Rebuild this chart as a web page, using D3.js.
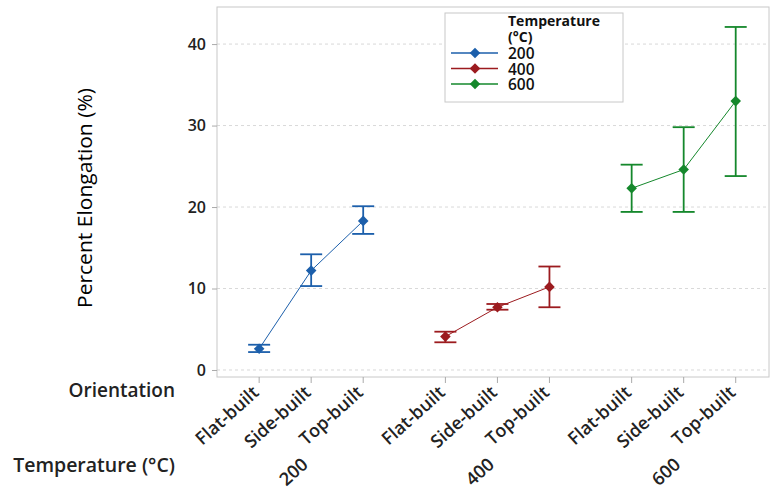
<!DOCTYPE html>
<html>
<head>
<meta charset="utf-8">
<script src="https://cdn.jsdelivr.net/npm/d3@7"></script>
<style>
    body { margin: 0; background: #fff; }
    svg { display: block; font-family: "Open Sans", "Noto Sans", sans-serif; }
</style>
</head>
<body>
<svg id="chart" width="771" height="493"></svg>
<script>
var temperatures = ["200", "400", "600"];
var orientations = ["Flat-built", "Side-built", "Top-built"];
var colors = ["#1c5fab", "#9c1b1f", "#15882c"];
var means = [[2.6, 12.2, 18.3], [4.1, 7.7, 10.2], [22.3, 24.6, 33.0]];
var lowers = [[2.2, 10.3, 16.7], [3.4, 7.4, 7.7], [19.4, 19.4, 23.8]];
var uppers = [[3.1, 14.2, 20.1], [4.7, 8.1, 12.7], [25.2, 29.8, 42.1]];
var yTicks = [0, 10, 20, 30, 40];

(function() {
    var svg = d3.select("#chart");
    var left = 217, right = 769, top = 7, bottom = 377;
    var GROUP_GAP = 1.58;
    var TILT = -42;

    // position of each point on a continuous axis, groups spaced apart
    function slot(g, o) { return g * (orientations.length - 1 + GROUP_GAP) + o; }

    var x = d3.scaleLinear()
        .domain([-0.81, slot(2, 2) + 0.64])
        .range([left, right]);
    var y = d3.scaleLinear()
        .domain([-0.86, 44.55])
        .range([bottom, top]);

    var rows = [];
    temperatures.forEach(function(t, g) {
        orientations.forEach(function(o, i) {
            rows.push({ g: g, i: i, temp: t, orient: o, mean: means[g][i], lo: lowers[g][i], hi: uppers[g][i] });
        });
    });

    // grid
    svg.append("g").selectAll("line")
        .data(yTicks)
        .join("line")
        .attr("x1", left).attr("x2", right)
        .attr("y1", function(d) { return y(d); })
        .attr("y2", function(d) { return y(d); })
        .attr("stroke", "#d9d9d9")
        .attr("stroke-dasharray", "3,3");

    svg.append("rect")
        .attr("x", left).attr("y", top)
        .attr("width", right - left).attr("height", bottom - top)
        .attr("fill", "none").attr("stroke", "#c8c8c8");

    // y axis
    var yAxis = svg.append("g")
        .attr("transform", "translate(" + left + ",0)")
        .call(d3.axisLeft(y).tickValues(yTicks).tickSize(5).tickPadding(6));
    yAxis.select(".domain").remove();
    yAxis.selectAll("line").attr("stroke", "#aaa");
    yAxis.selectAll("text")
        .attr("font-size", 16).attr("font-weight", 600).attr("fill", "#222")
        .attr("font-family", "'Open Sans', sans-serif");

    svg.append("text")
        .attr("transform", "translate(92,198) rotate(-90)")
        .attr("text-anchor", "middle")
        .attr("font-size", 19.5)
        .attr("font-weight", 500)
        .attr("fill", "#000")
        .attr("font-family", "'Open Sans', sans-serif")
        .attr("textLength", 220)
        .attr("lengthAdjust", "spacingAndGlyphs")
        .text("Percent Elongation (%)");

    // x ticks
    svg.append("g").selectAll("line")
        .data(rows)
        .join("line")
        .attr("x1", function(d) { return x(slot(d.g, d.i)); })
        .attr("x2", function(d) { return x(slot(d.g, d.i)); })
        .attr("y1", bottom).attr("y2", bottom + 6)
        .attr("stroke", "#aaa");

    svg.append("g").selectAll("text")
        .data(rows)
        .join("text")
        .attr("transform", function(d) {
            return "translate(" + (x(slot(d.g, d.i)) + 1) + "," + (bottom + 17) + ") rotate(" + TILT + ")";
        })
        .attr("text-anchor", "end")
        .attr("font-size", 18)
        .attr("font-weight", 600)
        .attr("fill", "#222")
        .text(function(d) { return d.orient; });

    svg.append("g").selectAll("text")
        .data(temperatures)
        .join("text")
        .attr("transform", function(d, g) {
            return "translate(" + (x(slot(g, 1)) - 2) + ",466) rotate(" + TILT + ")";
        })
        .attr("text-anchor", "end")
        .attr("font-size", 18)
        .attr("font-weight", 600)
        .attr("fill", "#222")
        .text(function(d) { return d; });

    svg.append("text")
        .attr("x", 175).attr("y", 397)
        .attr("text-anchor", "end")
        .attr("font-size", 19).attr("font-weight", 600).attr("fill", "#222")
        .text("Orientation");
    svg.append("text")
        .attr("x", 175).attr("y", 472)
        .attr("text-anchor", "end")
        .attr("font-size", 19.5).attr("font-weight", 600).attr("fill", "#222")
        .text("Temperature (°C)");

    // series
    var diamond = d3.symbol().type(d3.symbolSquare).size(56);
    var line = d3.line()
        .x(function(d) { return x(slot(d.g, d.i)); })
        .y(function(d) { return y(d.mean); });

    temperatures.forEach(function(t, g) {
        var pts = rows.filter(function(r) { return r.g === g; });
        var layer = svg.append("g").attr("stroke", colors[g]).attr("fill", colors[g]);

        layer.append("path").datum(pts)
            .attr("d", line).attr("fill", "none").attr("stroke-width", 1);

        var bars = layer.selectAll(".err").data(pts).join("g").attr("class", "err");
        bars.append("line")
            .attr("x1", function(d) { return x(slot(d.g, d.i)); })
            .attr("x2", function(d) { return x(slot(d.g, d.i)); })
            .attr("y1", function(d) { return y(d.lo); })
            .attr("y2", function(d) { return y(d.hi); })
            .attr("stroke-width", 1.8);
        [function(d) { return d.lo; }, function(d) { return d.hi; }].forEach(function(val) {
            bars.append("line")
                .attr("x1", function(d) { return x(slot(d.g, d.i)) - 11; })
                .attr("x2", function(d) { return x(slot(d.g, d.i)) + 11; })
                .attr("y1", function(d) { return y(val(d)); })
                .attr("y2", function(d) { return y(val(d)); })
                .attr("stroke-width", 1.8);
        });

        layer.selectAll(".pt").data(pts).join("path")
            .attr("class", "pt")
            .attr("transform", function(d) {
                return "translate(" + x(slot(d.g, d.i)) + "," + y(d.mean) + ") rotate(45)";
            })
            .attr("d", diamond)
            .attr("stroke", "none");
    });

    // legend
    var legend = svg.append("g");
    legend.append("rect")
        .attr("x", 445).attr("y", 13).attr("width", 178).attr("height", 89)
        .attr("fill", "#fff").attr("stroke", "#c8c8c8");
    legend.append("text")
        .attr("x", 508).attr("y", 26)
        .attr("font-size", 14).attr("font-weight", 700).attr("fill", "#111")
        .text("Temperature");
    legend.append("text")
        .attr("x", 508).attr("y", 42)
        .attr("font-size", 14).attr("font-weight", 700).attr("fill", "#111")
        .text("(°C)");
    var items = legend.selectAll(".item").data(temperatures).join("g")
        .attr("class", "item")
        .attr("transform", function(d, i) { return "translate(0," + (53 + i * 15.5) + ")"; });
    items.append("line")
        .attr("x1", 451).attr("x2", 498).attr("y1", 0).attr("y2", 0)
        .attr("stroke", function(d, i) { return colors[i]; }).attr("stroke-width", 1.5);
    items.append("path")
        .attr("transform", "translate(475,0) rotate(45)")
        .attr("d", diamond)
        .attr("fill", function(d, i) { return colors[i]; });
    items.append("text")
        .attr("x", 508).attr("y", 6)
        .attr("font-size", 15.5).attr("font-weight", 600).attr("fill", "#111")
        .text(function(d) { return d; });
})();
</script>
</body>
</html>
